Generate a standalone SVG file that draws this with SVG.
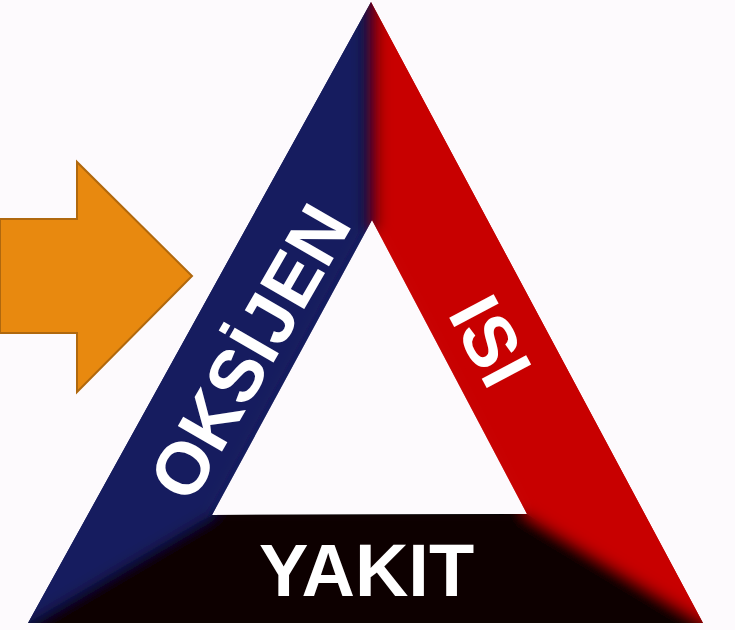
<svg xmlns="http://www.w3.org/2000/svg" width="735" height="630" viewBox="0 0 735 630">
  <defs>
    <style>
      .lbl { font-family: "Liberation Sans", Arial, sans-serif; font-weight: bold; fill: #ffffff; text-anchor: middle; }
      .blue { fill: #161a5e; }
      .red { fill: #c80606; }
      .black { fill: #070203; }
    </style>
    <clipPath id="ring">
      <path clip-rule="evenodd" d="M371,2 L703,623 L28,623 Z M372,220 L212,515 L527,514 Z"/>
    </clipPath>
    <filter id="soft" x="-10%" y="-10%" width="120%" height="120%">
      <feGaussianBlur stdDeviation="7"/>
    </filter>
  </defs>

  <rect x="0" y="0" width="735" height="630" fill="#fdfafd"/>

  <g id="arrow">
    <polygon points="0,219 77,219 77,162 192,276 77,392 77,333 0,333" fill="#e8890f" stroke="#b0680e" stroke-width="2" stroke-linejoin="miter"/>
  </g>

  <g id="triangle">
    <g id="base">
      <polygon class="blue" points="371,2 372,220 212,515 28,623"/>
      <polygon class="red" points="371,2 703,623 527,514 372,220"/>
      <polygon class="black" points="28,623 212,515 527,514 703,623"/>
    </g>
    <g clip-path="url(#ring)">
      <g filter="url(#soft)">
        <polygon class="blue" points="371,-20 372,220 212,515 0,640 0,-20"/>
        <polygon class="red" points="371,-20 735,-20 735,640 527,514 372,220"/>
        <polygon class="black" points="0,640 212,515 527,514 735,640"/>
        <rect x="364" y="-20" width="14" height="250" fill="#1a0410"/>
      </g>
    </g>
  </g>

  <g id="labels">
    <text class="lbl" font-size="74" transform="translate(272,365) rotate(-60)">OKSİJEN</text>
    <text class="lbl" font-size="73" transform="translate(468,353) rotate(62)">ISI</text>
    <text class="lbl" font-size="74" x="366.5" y="596">YAKIT</text>
  </g>
</svg>
